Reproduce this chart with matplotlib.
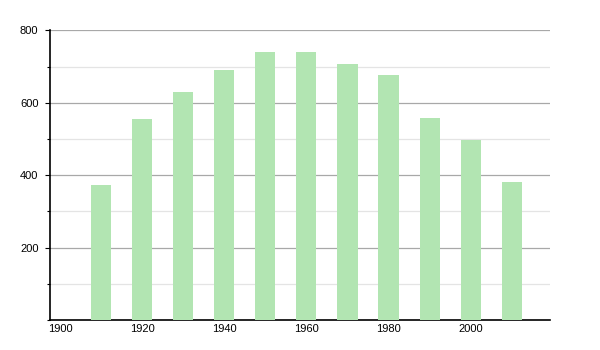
import matplotlib.pyplot as plt
from matplotlib.ticker import MultipleLocator

plt.rcParams['font.family'] = ['Liberation Sans', 'DejaVu Sans']

years = [1910, 1920, 1930, 1940, 1950, 1960, 1970, 1980, 1990, 2000, 2010]
population = [373, 555, 630, 690, 740, 740, 708, 677, 558, 498, 381]
x_ticks = [1900, 1920, 1940, 1960, 1980, 2000]
y_ticks = [200, 400, 600, 800]

fig = plt.figure(figsize=(6, 3.5), dpi=100)
ax = fig.add_axes([0.0838, 0.0857, 0.8333, 0.8277])

ax.bar(years, population, width=4.9, color='#b2e5b2', zorder=3)

ax.set_xlim(1897.6, 2019.4)
ax.set_ylim(0, 800)
ax.set_xticks(x_ticks)
ax.set_yticks(y_ticks)
ax.yaxis.set_minor_locator(MultipleLocator(100))

ax.grid(axis='y', which='major', color='#a8a8a8', lw=0.9, zorder=1)
ax.grid(axis='y', which='minor', color='#e4e4e4', lw=0.9, zorder=1)

for side in ('top', 'right'):
    ax.spines[side].set_visible(False)
ax.spines['left'].set_linewidth(1.2)
ax.spines['bottom'].set_linewidth(1.2)

ax.tick_params(axis='y', which='major', length=3.5, width=0.8, pad=5, labelsize=8)
ax.tick_params(axis='y', which='minor', length=2, width=0.8)
ax.tick_params(axis='x', length=0, pad=3, labelsize=8)

fig.savefig('out.png', dpi=100)
